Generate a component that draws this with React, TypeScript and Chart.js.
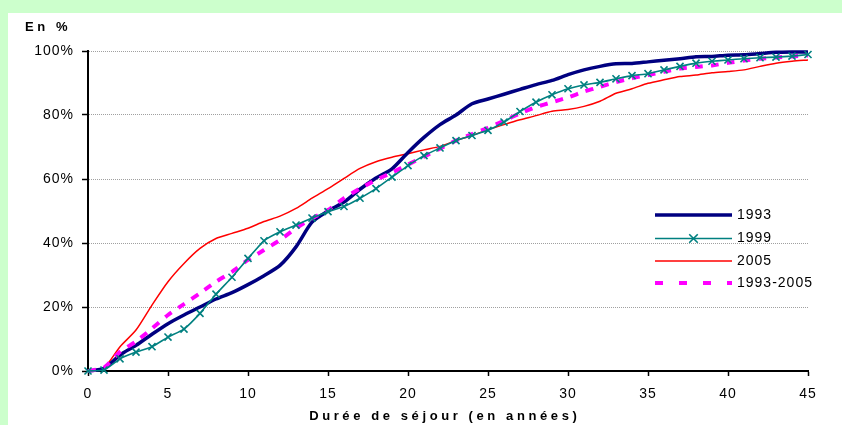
import { useEffect, useRef } from "react";
import { Chart, registerables } from "chart.js";

Chart.register(...registerables);

// ---- data ----
const years = [
  0, 1, 2, 3, 4, 5, 6, 7, 8, 9, 10, 11, 12, 13, 14, 15, 16, 17, 18, 19, 20, 21, 22,
  23, 24, 25, 26, 27, 28, 29, 30, 31, 32, 33, 34, 35, 36, 37, 38, 39, 40, 41, 42, 43,
  44, 45,
];

const serie1993 = [
  0, 0.8, 5, 8, 11.5, 14.8, 17.5, 20, 22.5, 24.5, 27, 29.8, 33, 38.8, 46.5, 50, 52.8,
  56.8, 60.3, 63.2, 68.3, 73, 77, 80, 83.5, 85, 86.5, 88, 89.5, 90.8, 92.6, 94.1, 95.2,
  96, 96.1, 96.6, 97.1, 97.6, 98.2, 98.3, 98.7, 98.8, 99.2, 99.6, 99.7, 99.7,
];

const serie1999 = [
  0, 0.3, 3.8, 5.9, 7.6, 10.6, 13.1, 18, 24, 29.3, 35.2, 40.7, 43.5, 45.6, 47.8, 49.8,
  51.4, 54, 57, 60.6, 64.2, 67.3, 69.7, 72, 73.6, 75.2, 77.8, 81.1, 84, 86.3, 88.2, 89.4,
  90.2, 91.3, 92.3, 92.9, 94.1, 95.2, 96.2, 96.8, 97.2, 97.6, 97.9, 98.1, 98.4, 98.9,
];

const serie2005 = [
  0, 1, 7.6, 12.8, 20.6, 27.9, 33.6, 38.3, 41.4, 43, 44.6, 46.7, 48.4, 50.8, 54, 57,
  60.2, 63.3, 65.4, 66.8, 67.9, 69.1, 70.2, 72, 73.6, 75.4, 77, 78.5, 79.8, 81.2, 81.7,
  82.7, 84.3, 86.8, 88.2, 89.9, 91, 92, 92.5, 93.2, 93.6, 94.1, 95.2, 96.2, 96.8, 97.2,
];

const serie19932005 = [
  0, 1, 6, 9.2, 13.3, 17.5, 20.9, 24.3, 27.9, 31, 34.7, 37.8, 40.9, 44.6, 47.7, 50.3,
  54, 57, 59.7, 62, 64.5, 67, 69.5, 72, 74, 76, 78.2, 80.5, 82.5, 84, 85.5, 87.3, 88.8,
  90.3, 91.5, 92.5, 93.5, 94.5, 95, 95.5, 96.3, 97, 97.6, 98, 98.3, 98.6,
];

const seriesLabels = ["1993", "1999", "2005", "1993-2005"];
const yTitle = "En %";
const xTitle = "Durée de séjour (en années)";

const FONT = "'Liberation Sans', Arial, Helvetica, sans-serif";

const toPoints = (vals: number[]) => years.map((x, i) => ({ x, y: vals[i] }));

const overlayPlugin = {
  id: "overlay",
  beforeLayout(chart: any) {
    chart.ctx.letterSpacing = "1px";
  },
  beforeDraw(chart: any) {
    chart.ctx.letterSpacing = "1px";
  },
  afterDraw(chart: any) {
    const ctx: CanvasRenderingContext2D = chart.ctx;
    ctx.save();
    // legend
    const rowsY = [202, 225.5, 248, 270];
    const x0 = 647;
    const x1 = 724;
    chart.data.datasets.forEach((ds: any) => {
      const y = rowsY[ds.legendRow];
      ctx.save();
      ctx.strokeStyle = ds.borderColor;
      ctx.lineWidth = ds.borderWidth;
      ctx.setLineDash(ds.legendDash || []);
      ctx.lineCap = "butt";
      ctx.beginPath();
      ctx.moveTo(x0, y);
      ctx.lineTo(x1, y);
      ctx.stroke();
      ctx.setLineDash([]);
      if (ds.pointRadius > 0) {
        const cx = (x0 + x1) / 2;
        const r = ds.pointRadius * 0.85;
        ctx.lineWidth = ds.pointBorderWidth;
        ctx.strokeStyle = ds.pointBorderColor;
        ctx.beginPath();
        ctx.moveTo(cx - r, y - r);
        ctx.lineTo(cx + r, y + r);
        ctx.moveTo(cx + r, y - r);
        ctx.lineTo(cx - r, y + r);
        ctx.stroke();
      }
      ctx.restore();
      ctx.fillStyle = "#000";
      ctx.font = `14px ${FONT}`;
      ctx.letterSpacing = "1px";
      ctx.textBaseline = "middle";
      ctx.textAlign = "left";
      ctx.fillText(ds.label, 729, y);
    });

    // titles
    ctx.fillStyle = "#000";
    ctx.font = `bold 13px ${FONT}`;
    ctx.letterSpacing = "3.6px";
    ctx.textBaseline = "alphabetic";
    ctx.textAlign = "left";
    ctx.fillText(yTitle, 17, 18);
    const w = ctx.measureText(xTitle).width - 3.6;
    const cx = (chart.chartArea.left + chart.chartArea.right) / 2 - 5;
    ctx.fillText(xTitle, cx - w / 2, 407);
    ctx.restore();
  },
};

export default function App() {
  const ref = useRef<HTMLCanvasElement | null>(null);

  useEffect(() => {
    if (!ref.current) return;
    const chart = new Chart(ref.current, {
      type: "line",
      data: {
        datasets: [
          {
            label: seriesLabels[1],
            data: toPoints(serie1999),
            borderColor: "#008080",
            backgroundColor: "#008080",
            borderWidth: 1.6,
            pointStyle: "crossRot",
            pointRadius: 5,
            pointBorderWidth: 1.6,
            pointBorderColor: "#008080",
            tension: 0.15,
            clip: false,
            order: 0,
            legendRow: 1,
          } as any,
          {
            label: seriesLabels[3],
            data: toPoints(serie19932005),
            borderColor: "#FF00FF",
            backgroundColor: "#FF00FF",
            borderWidth: 4,
            borderDash: [8, 8],
            legendDash: [8, 16],
            pointRadius: 0,
            tension: 0.2,
            clip: false,
            order: 1,
            legendRow: 3,
          } as any,
          {
            label: seriesLabels[2],
            data: toPoints(serie2005),
            borderColor: "#FF0000",
            backgroundColor: "#FF0000",
            borderWidth: 1.5,
            pointRadius: 0,
            tension: 0.25,
            clip: false,
            order: 3,
            legendRow: 2,
          } as any,
          {
            label: seriesLabels[0],
            data: toPoints(serie1993),
            borderColor: "#000080",
            backgroundColor: "#000080",
            borderWidth: 3.5,
            pointRadius: 0,
            tension: 0.25,
            clip: false,
            order: 2,
            legendRow: 0,
          } as any,
        ],
      },
      options: {
        animation: false,
        responsive: true,
        maintainAspectRatio: false,
        layout: { padding: { top: 38, right: 34, bottom: 0, left: 0 } },
        plugins: {
          legend: { display: false },
          tooltip: { enabled: false },
          title: { display: false },
        },
        scales: {
          x: {
            type: "linear",
            min: 0,
            max: 45,
            afterFit: (s: any) => {
              s.height = 54;
            },
            ticks: {
              stepSize: 5,
              color: "#000",
              padding: 10,
              font: { family: FONT, size: 14 },
              maxRotation: 0,
            },
            grid: {
              drawOnChartArea: false,
              drawTicks: true,
              tickLength: 5,
              tickColor: "#000",
              tickWidth: 1.5,
            },
            border: { display: true, color: "#000", width: 2 },
          },
          y: {
            min: 0,
            max: 100,
            afterFit: (s: any) => {
              s.width = 80;
            },
            ticks: {
              stepSize: 20,
              color: "#000",
              padding: 8,
              font: { family: FONT, size: 14 },
              callback: (v: any) => `${v}%`,
            },
            grid: {
              color: "#a0a0a0",
              lineWidth: 1,
              drawTicks: true,
              tickLength: 6,
              tickColor: "#000",
              tickWidth: 1.5,
            },
            border: { display: true, color: "#000", width: 2, dash: [1, 1] },
          },
        },
      } as any,
      plugins: [overlayPlugin],
    });
    return () => chart.destroy();
  }, []);

  return (
    <div style={{ position: "fixed", inset: 0, background: "#CCFFCC" }}>
      <div
        style={{
          position: "absolute",
          left: 8,
          top: 13,
          width: 834,
          height: 412,
          background: "#fff",
        }}
      >
        <canvas ref={ref} />
      </div>
    </div>
  );
}
